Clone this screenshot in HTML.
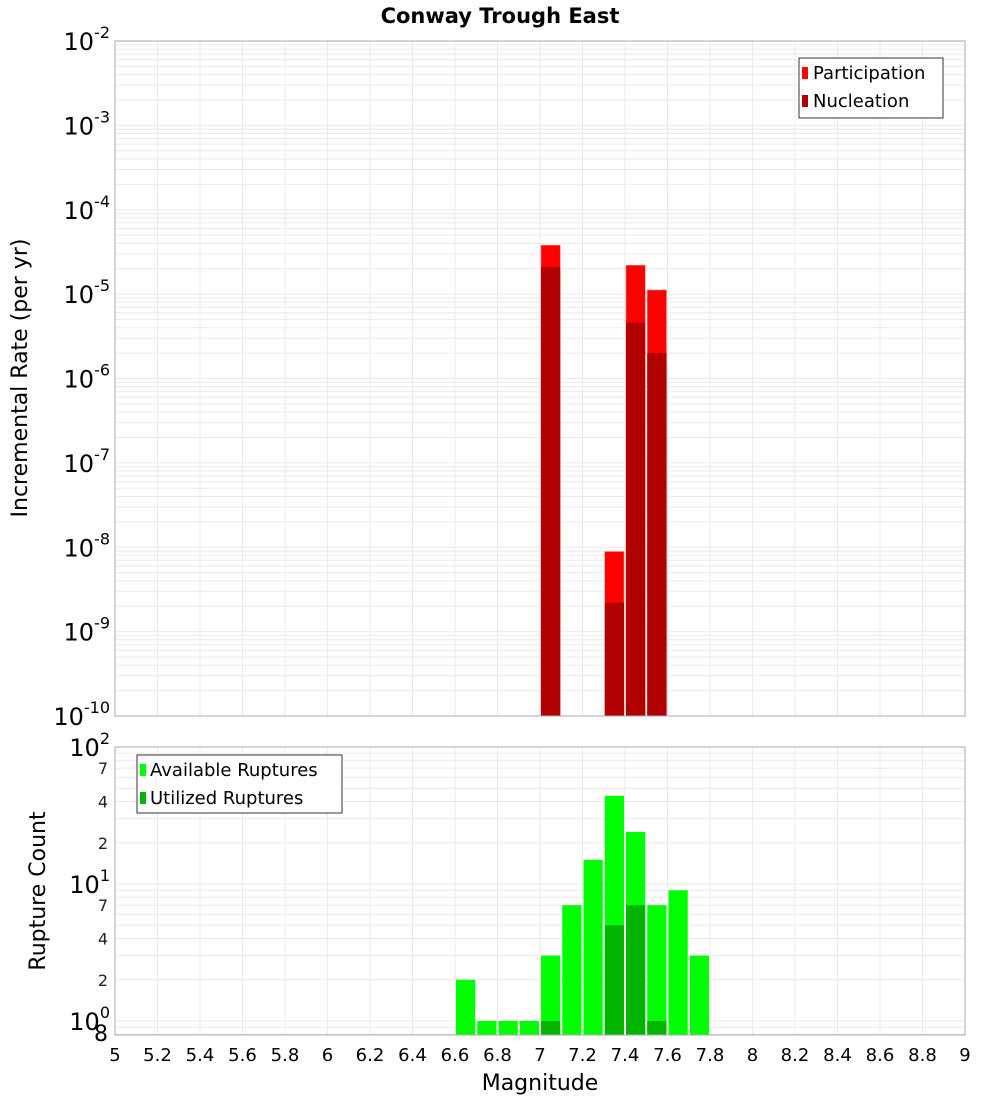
<!DOCTYPE html>
<html><head><meta charset="utf-8"><style>
body{margin:0;background:#fff;}
svg{display:block;font-family:"DejaVu Sans","Liberation Sans",sans-serif;}
</style></head><body>
<svg id="chart" width="1000" height="1100" viewBox="0 0 1000 1100" xmlns="http://www.w3.org/2000/svg">
<text x="500" y="23" text-anchor="middle" font-size="21" font-weight="bold">Conway Trough East</text>
<g id="topg"></g><g id="botg"></g>
</svg>
<script>
const mags = [7.0, 7.3, 7.4, 7.5];
const participation = [3.8e-5, 8.9e-9, 2.2e-5, 1.12e-5];
const nucleation = [2.1e-5, 2.2e-9, 4.6e-6, 2.0e-6];
const countMags = [6.6, 6.7, 6.8, 6.9, 7.0, 7.1, 7.2, 7.3, 7.4, 7.5, 7.6, 7.7];
const available = [2, 1, 1, 1, 3, 7, 15, 44, 24, 7, 9, 3];
const utilMags = [7.0, 7.3, 7.4, 7.5];
const utilized = [1, 5, 7, 1];
const xTicks = ["5","5.2","5.4","5.6","5.8","6","6.2","6.4","6.6","6.8","7","7.2","7.4","7.6","7.8","8","8.2","8.4","8.6","8.8","9"];
const topExps = [-2,-3,-4,-5,-6,-7,-8,-9,-10];
const botMinorLabels = ["7","4","2"];

const NS="http://www.w3.org/2000/svg";
const X0=115,X1=965;
const xs=m=>X0+(m-5)/4*(X1-X0);
const T0=41,T1=716;
const yTop=v=>T0+(-2-Math.log10(v))/8*(T1-T0);
const B0=747,B1=1035,BD=137;
const yBot=v=>B0+(2-Math.log10(v))*BD;
function el(tag,attrs,parent,txt){const e=document.createElementNS(NS,tag);for(const k in attrs)e.setAttribute(k,attrs[k]);if(txt!==undefined)e.textContent=txt;parent.appendChild(e);return e;}
const topG=document.getElementById('topg'),botG=document.getElementById('botg');

for(let d=-10;d<-2;d++){for(let k=1;k<10;k++){const v=k*Math.pow(10,d);const y=yTop(v);
 const l=el('line',{x1:X0,x2:X1,y1:y,y2:y,stroke:'#ebebeb','stroke-width':1},topG);
 
 }}
for(let i=0;i<xTicks.length;i++){const xx=xs(+xTicks[i]);
 const l=el('line',{x1:xx,x2:xx,y1:T0,y2:T1,stroke:'#ebebeb'},topG);
 
 
 const l2=el('line',{x1:xx,x2:xx,y1:B0,y2:B1,stroke:'#ebebeb'},botG);
 
 }
const bw=xs(5.1)-xs(5)-2;
mags.forEach((m,i)=>{
 const p=el('rect',{x:xs(m)+1,y:yTop(participation[i]),width:bw,height:T1-yTop(participation[i]),fill:'#ff0000',stroke:'#ff8080','stroke-width':0.6},topG);
 
 
 const n=el('rect',{x:xs(m)+1,y:yTop(nucleation[i]),width:bw,height:T1-yTop(nucleation[i]),fill:'#b00000'},topG);
 
 
});
let f=el('rect',{x:X0,y:T0,width:X1-X0,height:T1-T0,fill:'none',stroke:'#aaa'},topG);


topExps.forEach(e=>{const y=yTop(Math.pow(10,e));
 const t=el('text',{x:110,y:y+9,'text-anchor':'end','font-size':24},topG);
 
 
 el('tspan',{},t,'10');el('tspan',{dy:-12,'font-size':16},t,String(e));});
let yt=el('text',{x:27,y:378,'text-anchor':'middle','font-size':22,transform:'rotate(-90 27 378)'},topG,'Incremental Rate (per yr)');


let lg=el('g',{},topG);


el('rect',{x:799,y:58,width:144,height:60,fill:'#fff',stroke:'#333'},lg);
el('rect',{x:802,y:67,width:6,height:12,fill:'#ff0000'},lg);
el('text',{x:813,y:79,'font-size':18},lg,'Participation');
el('rect',{x:802,y:95,width:6,height:12,fill:'#b00000'},lg);
el('text',{x:813,y:107,'font-size':18},lg,'Nucleation');

for(const v of [0.8,0.9,1,2,3,4,5,6,7,8,9,10,20,30,40,50,60,70,80,90]){const y=yBot(v);if(y>B1)continue;
 const l=el('line',{x1:X0,x2:X1,y1:y,y2:y,stroke:'#ebebeb'},botG);
 
 }
countMags.forEach((m,i)=>{const y=yBot(available[i]);
 const r=el('rect',{x:xs(m)+1,y:y,width:bw,height:B1-y,fill:'#00ff00'},botG);
 
 });
utilMags.forEach((m,i)=>{const y=yBot(utilized[i]);
 const r=el('rect',{x:xs(m)+1,y:y,width:bw,height:B1-y,fill:'#00b400'},botG);
 
 });
f=el('rect',{x:X0,y:B0,width:X1-X0,height:B1-B0,fill:'none',stroke:'#aaa'},botG);


[2,1,0].forEach(e=>{const y=yBot(Math.pow(10,e));
 const t=el('text',{x:110,y:y+9,'text-anchor':'end','font-size':24},botG);
 
 
 el('tspan',{},t,'10');el('tspan',{dy:-12,'font-size':16},t,String(e));
 if(e>0){botMinorLabels.forEach(s=>{const yy=yBot(+s*Math.pow(10,e-1));
  const m=el('text',{x:108,y:yy+6,'text-anchor':'end','font-size':16,fill:'#222'},botG,s);
  
  });}});
let e8=el('text',{x:108,y:1041,'text-anchor':'end','font-size':22},botG,'8');


yt=el('text',{x:45,y:891,'text-anchor':'middle','font-size':22,transform:'rotate(-90 45 891)'},botG,'Rupture Count');


xTicks.forEach(s=>{const t=el('text',{x:xs(+s),y:1061,'text-anchor':'middle','font-size':18},botG,s);
 
 });
let xt=el('text',{x:540,y:1090,'text-anchor':'middle','font-size':22},botG,'Magnitude');


lg=el('g',{},botG);


el('rect',{x:137,y:755,width:205,height:58,fill:'#fff',stroke:'#333'},lg);
el('rect',{x:140,y:764,width:6,height:12,fill:'#00ff00'},lg);
el('text',{x:150,y:776,'font-size':18},lg,'Available Ruptures');
el('rect',{x:140,y:792,width:6,height:12,fill:'#00b400'},lg);
el('text',{x:150,y:804,'font-size':18},lg,'Utilized Ruptures');
</script>
</body></html>
